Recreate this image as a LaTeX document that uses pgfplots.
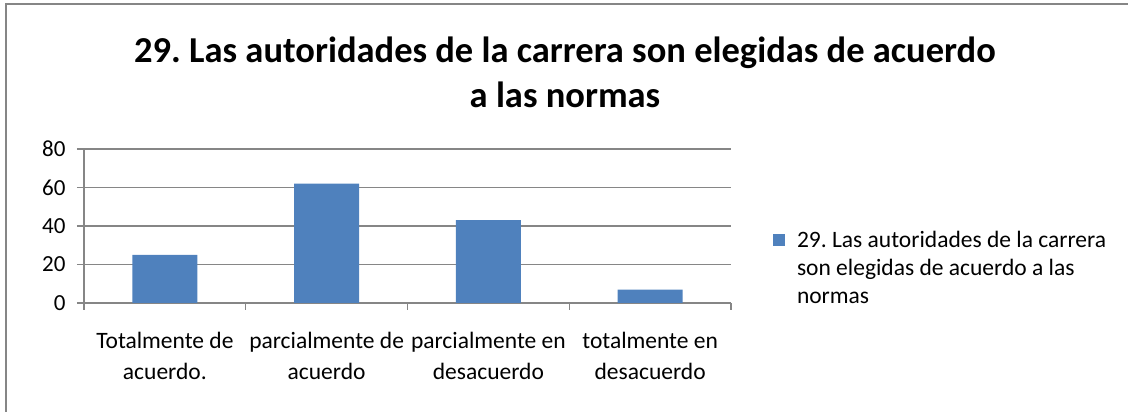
\documentclass[border=0pt]{standalone}
\usepackage{pgfplots}
\pgfplotsset{compat=1.18}
\usepackage{fontspec}
\setmainfont{Carlito}
\frenchspacing
\definecolor{barblue}{HTML}{4F81BD}
\definecolor{gridgray}{HTML}{868686}
\begin{document}
\begin{tikzpicture}[x=1pt,y=1pt]
\useasboundingbox (0,0) rectangle (1128,412);
\draw[gridgray, line width=2pt] (6,0) -- (6,408) -- (1128,408);
\node[font=\fontsize{36.5}{45}\selectfont\bfseries, align=center] at (565,340) {29. Las autoridades de la carrera son elegidas de acuerdo\\a las normas};
\begin{axis}[
  at={(84pt,109pt)}, anchor=south west,
  scale only axis, width=647pt, height=154pt,
  xmin=-0.5, xmax=3.5, ymin=0, ymax=80,
  ytick={0,20,40,60,80},
  xtick={0,1,2,3},
  /pgf/number format/assume math mode=true,
  xticklabels={{Totalmente de\\acuerdo.},{parcialmente de\\acuerdo},{parcialmente en\\desacuerdo},{totalmente en\\desacuerdo}},
  xticklabel style={align=center, font=\fontsize{23.5}{31}\selectfont, yshift=-19pt},
  yticklabel style={font=\fontsize{23}{27}\selectfont, xshift=-8pt},
  major x tick style={draw=none},
  minor xtick={-0.5,0.5,1.5,2.5,3.5},
  axis x line*=bottom, axis y line*=left,
  tick align=outside,
  major tick length=7pt, minor tick length=7pt,
  ymajorgrids, grid style={gridgray, line width=1.3pt},
  axis line style={gridgray, line width=1.3pt},
  tick style={gridgray, line width=1.3pt},
  ybar, bar width=65pt,
  legend style={draw=none, at={(1.06,0.227)}, anchor=west, font=\fontsize{23.5}{28}\selectfont, nodes={align=left}},
  legend cell align=left,
  legend image code/.code={\fill[barblue] (0pt,22pt) rectangle (12pt,34pt); \path (22pt,0pt);},
]
\addplot[fill=barblue, draw=none] coordinates {(0,25) (1,62) (2,43) (3,7)};
\addlegendentry{29. Las autoridades de la carrera\\son elegidas de acuerdo a las\\normas}
\end{axis}
\end{tikzpicture}
\end{document}
